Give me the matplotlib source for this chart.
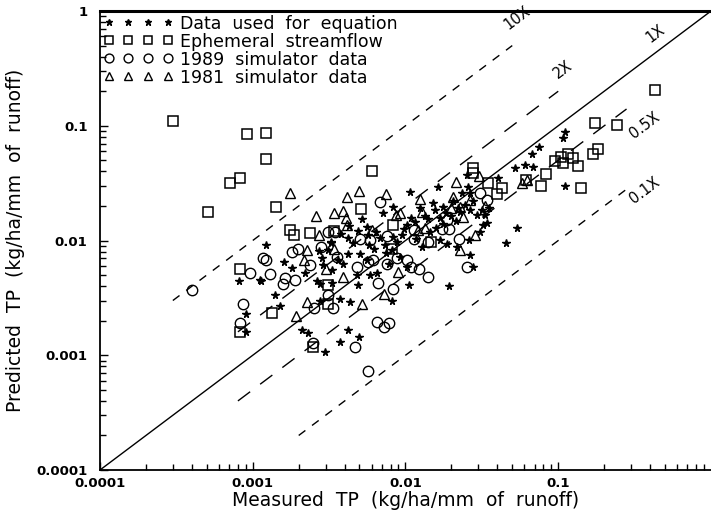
import matplotlib.pyplot as plt
from matplotlib.ticker import FixedLocator, LogLocator, NullFormatter

#==========================================================================
# DATA
#==========================================================================
stars_x = [0.0107, 0.0164, 0.0258, 0.0264, 0.00122, 0.00283, 0.00324, 0.00423, 0.00111, 0.00091,
           0.00091, 0.00151, 0.00209, 0.00231, 0.00297, 0.00372, 0.00423, 0.00499, 0.00434, 0.0105,
           0.0194, 0.00811, 0.00811, 0.00557, 0.00716, 0.0141, 0.0168, 0.0307, 0.034, 0.0216,
           0.00504, 0.00262, 0.00275, 0.0014, 0.00372, 0.00491, 0.00571, 0.0102, 0.0128, 0.0168,
           0.0264, 0.00832, 0.0152, 0.00647, 0.00586, 0.0102, 0.0124, 0.0292, 0.0222, 0.00734,
           0.00479, 0.00275, 0.111, 0.108, 0.0752, 0.067, 0.0521, 0.0606, 0.0687, 0.0406,
           0.111, 0.0251, 0.0331, 0.0354, 0.0323, 0.0534, 0.0455, 0.0262, 0.0186, 0.0264,
           0.0278, 0.0177, 0.0315, 0.00081, 0.00113, 0.00326, 0.0045, 0.0062, 0.0068, 0.0088,
           0.0095, 0.0115, 0.0135, 0.0185, 0.0205, 0.0235, 0.0039, 0.0033, 0.0022, 0.0018,
           0.0016, 0.0027, 0.0056, 0.0078, 0.0092, 0.0145, 0.0158, 0.0215, 0.0245, 0.0038,
           0.0049, 0.0052, 0.0043, 0.0031, 0.0036, 0.0058, 0.0074, 0.0083, 0.0118, 0.0176,
           0.0198, 0.0228, 0.0275, 0.0029, 0.0064, 0.0108, 0.0155, 0.0042, 0.0098, 0.0033]
stars_y = [0.0267, 0.029, 0.0294, 0.0258, 0.0091, 0.0070, 0.0096, 0.0077, 0.0045, 0.0023,
           0.0016, 0.0027, 0.00166, 0.00157, 0.00107, 0.00131, 0.00166, 0.00145, 0.0029, 0.0041,
           0.0040, 0.0030, 0.0083, 0.0132, 0.0172, 0.0153, 0.0156, 0.0119, 0.0141, 0.0088,
           0.0077, 0.0044, 0.0042, 0.00335, 0.0031, 0.0041, 0.0112, 0.0137, 0.0088, 0.0101,
           0.0184, 0.0197, 0.0211, 0.0052, 0.0050, 0.0059, 0.0191, 0.0167, 0.0191, 0.0091,
           0.0050, 0.0030, 0.089, 0.078, 0.0657, 0.0567, 0.0426, 0.0455, 0.044, 0.0348,
           0.030, 0.0372, 0.0167, 0.0191, 0.0137, 0.0128, 0.0096, 0.0101, 0.0094, 0.0075,
           0.0059, 0.0197, 0.0184, 0.0044, 0.0044, 0.0097, 0.0095, 0.0085, 0.0105, 0.0098,
           0.0112, 0.0145, 0.0165, 0.0175, 0.022, 0.026, 0.0063, 0.0055, 0.0052, 0.0058,
           0.0065, 0.0081, 0.0068, 0.0062, 0.0072, 0.0118, 0.0128, 0.0148, 0.0205, 0.0115,
           0.0122, 0.0155, 0.0135, 0.0082, 0.0068, 0.0092, 0.0078, 0.0108, 0.0104, 0.0138,
           0.0162, 0.0178, 0.0222, 0.0061, 0.0118, 0.0158, 0.0185, 0.0105, 0.0125, 0.0043]

squares_x = [0.0003, 0.00092, 0.00122, 0.00122, 0.00071, 0.00082, 0.00051, 0.00142, 0.006, 0.0051,
             0.00175, 0.00186, 0.00237, 0.00342, 0.0083, 0.0275, 0.0278, 0.0348, 0.00082, 0.00133,
             0.00082, 0.00309, 0.0081, 0.0148, 0.00247, 0.00312, 0.174, 0.241, 0.0952, 0.104,
             0.116, 0.107, 0.124, 0.135, 0.170, 0.181, 0.083, 0.077, 0.140, 0.0426,
             0.0395, 0.0615, 0.43]
squares_y = [0.11, 0.085, 0.086, 0.051, 0.032, 0.035, 0.0177, 0.0195, 0.040, 0.019,
             0.0124, 0.0112, 0.0116, 0.0121, 0.0137, 0.043, 0.0385, 0.0315, 0.0056, 0.00235,
             0.0016, 0.0028, 0.0084, 0.0098, 0.00119, 0.0041, 0.105, 0.101, 0.0496, 0.0538,
             0.0567, 0.0471, 0.052, 0.0446, 0.0567, 0.0623, 0.038, 0.030, 0.0289, 0.0289,
             0.0254, 0.0337, 0.205]

circles_x = [0.00681, 0.00312, 0.00345, 0.00278, 0.00199, 0.0018, 0.00237, 0.00117, 0.00122, 0.00096,
             0.00129, 0.00163, 0.00189, 0.00158, 0.00354, 0.00484, 0.00571, 0.00753, 0.0113, 0.0141,
             0.0225, 0.0173, 0.0194, 0.00664, 0.00832, 0.0109, 0.0123, 0.0251, 0.0141, 0.00753,
             0.00615, 0.00252, 0.00334, 0.00309, 0.00647, 0.00723, 0.00784, 0.00467, 0.00571, 0.00249,
             0.00087, 0.00082, 0.0307, 0.034, 0.0186, 0.0113, 0.0102, 0.00875, 0.00504, 0.00586,
             0.0004]
circles_y = [0.0218, 0.0119, 0.0119, 0.0088, 0.0085, 0.008, 0.0061, 0.007, 0.0068, 0.0052,
             0.0051, 0.0047, 0.0045, 0.0042, 0.0072, 0.0059, 0.0065, 0.0109, 0.0124, 0.0098,
             0.0104, 0.0125, 0.0125, 0.0043, 0.0038, 0.0059, 0.0057, 0.0059, 0.0048, 0.0063,
             0.0068, 0.0026, 0.0026, 0.00335, 0.00196, 0.00175, 0.0019, 0.00119, 0.00073, 0.00127,
             0.0028, 0.0019, 0.0258, 0.0225, 0.0151, 0.0104, 0.0068, 0.007, 0.0104, 0.0101,
             0.0037]

triangles_x = [0.00175, 0.0026, 0.00342, 0.00392, 0.00412, 0.00499, 0.00741, 0.00407, 0.00416, 0.00272,
               0.00342, 0.00392, 0.00516, 0.00192, 0.00723, 0.00889, 0.00225, 0.0214, 0.0124, 0.0128,
               0.0239, 0.0301, 0.0227, 0.006, 0.0121, 0.0092, 0.00225, 0.00302, 0.00218, 0.00867,
               0.0134, 0.0206, 0.0264, 0.0576, 0.062, 0.0227, 0.0200, 0.0285, 0.0331]
triangles_y = [0.0258, 0.0164, 0.0172, 0.0181, 0.0241, 0.0272, 0.0253, 0.0156, 0.0137, 0.0112,
               0.0085, 0.0048, 0.0028, 0.0022, 0.0034, 0.0053, 0.0029, 0.0326, 0.0229, 0.0178,
               0.0161, 0.0365, 0.0083, 0.0124, 0.0124, 0.0172, 0.0083, 0.0057, 0.0068, 0.0167,
               0.0128, 0.0241, 0.0225, 0.0319, 0.0337, 0.0197, 0.0191, 0.0112, 0.020]

# ratio lines: factor, x start, x end, label, label position
ratios = [10, 2, 1, 0.5, 0.1]
ratio_x0 = [3e-4, 8e-4, 1e-4, 8e-4, 2e-3]
ratio_x1 = [0.05, 0.1, 1.0, 0.28, 0.3]
ratio_labels = ["10X", "2X", "1X", "0.5X", "0.1X"]
label_x = [0.054, 0.107, 0.43, 0.37, 0.37]
label_y = [0.87, 0.31, 0.64, 0.10, 0.0275]

#==========================================================================
# DRAW
#==========================================================================
fig = plt.figure(figsize=(7.11, 5.13), dpi=100)
ax = fig.add_axes([0.1406, 0.0838, 0.8594, 0.8947])
ax.set_xscale("log")
ax.set_yscale("log")

styles = {10: (0, (6, 6)), 2: (0, (11, 9)), 1: "-", 0.5: (0, (11, 9)), 0.1: (0, (6, 6))}
for r, x0, x1, lab, lx, ly in zip(ratios, ratio_x0, ratio_x1, ratio_labels, label_x, label_y):
    ax.plot([x0, x1], [x0 * r, x1 * r], color="k", lw=1.0, linestyle=styles[r])
    ax.text(lx, ly, lab, rotation=37, ha="center", va="center", fontsize=10.5)

ax.plot(stars_x, stars_y, linestyle="none", marker="*", ms=5.5, color="k",
        label="Data  used  for  equation")
ax.plot(squares_x, squares_y, linestyle="none", marker="s", ms=6.5, mfc="none", mec="k",
        mew=1.1, label="Ephemeral  streamflow")
ax.plot(circles_x, circles_y, linestyle="none", marker="o", ms=7.5, mfc="none", mec="k",
        mew=1.0, label="1989  simulator  data")
ax.plot(triangles_x, triangles_y, linestyle="none", marker="^", ms=7.5, mfc="none", mec="k",
        mew=1.0, label="1981  simulator  data")

ax.set_xlim(1e-4, 1)
ax.set_ylim(1e-4, 1)

ax.xaxis.set_major_locator(FixedLocator([1e-4, 1e-3, 1e-2, 1e-1]))
ax.set_xticklabels(["0.0001", "0.001", "0.01", "0.1"])
ax.yaxis.set_major_locator(FixedLocator([1e-4, 1e-3, 1e-2, 1e-1, 1]))
ax.set_yticklabels(["0.0001", "0.001", "0.01", "0.1", "1"])
for axis in (ax.xaxis, ax.yaxis):
    axis.set_minor_locator(LogLocator(base=10, subs=range(2, 10)))
    axis.set_minor_formatter(NullFormatter())
ax.tick_params(which="both", direction="in", width=1.0, top=False, right=False)
ax.tick_params(which="major", length=6, labelsize=9.5)
ax.tick_params(which="minor", length=4.5)
ax.tick_params(axis="x", pad=5)
ax.tick_params(axis="y", pad=9)
for t in ax.get_xticklabels() + ax.get_yticklabels():
    t.set_fontweight("bold")

ax.spines["right"].set_visible(False)
ax.spines["top"].set_linewidth(2.2)
ax.spines["left"].set_linewidth(1.3)
ax.spines["bottom"].set_linewidth(1.3)

ax.set_xlabel("Measured  TP  (kg/ha/mm  of  runoff)", fontsize=13.5, labelpad=1)
ax.set_ylabel("Predicted  TP  (kg/ha/mm  of  runoff)", fontsize=13.5, labelpad=8)

ax.legend(loc="upper left", frameon=False, numpoints=4, handlelength=4.0, handletextpad=0.4,
          fontsize=12.5, borderaxespad=0.1, labelspacing=0.0, borderpad=0.1,
          markerscale=0.85)

fig.savefig("out.png", dpi=100)
